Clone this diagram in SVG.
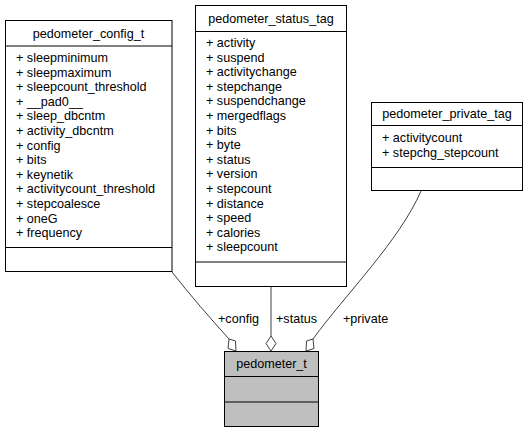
<svg xmlns="http://www.w3.org/2000/svg" width="529" height="433" viewBox="0 0 529 433">
<style>
text{font-family:"Liberation Sans",Arial,sans-serif;font-size:12.6px;fill:#000}
.box{fill:#fff;stroke:#000;stroke-width:1}
.main{fill:#bfbfbf;stroke:#000;stroke-width:1}
.sep{stroke:#000;stroke-width:1}
.c{text-anchor:middle}
.edge{fill:none;stroke:#404040;stroke-width:1}
.dia{fill:#fff;stroke:#404040;stroke-width:1}
</style>
<g id="edges">
<path class="edge" d="M172,272 C190,295 210,318 229,339"/>
<polygon class="dia" points="229,339 235.5,341 236,351 228,348.5"/>
<text x="218" y="323">+config</text>
<path class="edge" d="M271,287 L271,336"/>
<polygon class="dia" points="271,336 276,343.5 271,351 266,343.5"/>
<text x="276" y="323">+status</text>
<path class="edge" d="M421,191 C400,240 345,295 313,339"/>
<polygon class="dia" points="313,339 306.5,341 306,351 314,348.5"/>
<text x="343" y="323">+private</text>
</g>
<g id="pedometer_config_t">
<rect class="box" x="5.5" y="20.5" width="166.5" height="251"/>
<line class="sep" x1="5.5" y1="46" x2="172" y2="46"/>
<line class="sep" x1="5.5" y1="247.5" x2="172" y2="247.5"/>
<text class="c" x="88.5" y="38">pedometer_config_t</text>
<text x="16" y="62">+ sleepminimum</text>
<text x="16" y="76.6">+ sleepmaximum</text>
<text x="16" y="91.2">+ sleepcount_threshold</text>
<text x="16" y="105.8">+ __pad0__</text>
<text x="16" y="120.4">+ sleep_dbcntm</text>
<text x="16" y="135">+ activity_dbcntm</text>
<text x="16" y="149.6">+ config</text>
<text x="16" y="164.2">+ bits</text>
<text x="16" y="178.8">+ keynetik</text>
<text x="16" y="193.4">+ activitycount_threshold</text>
<text x="16" y="208">+ stepcoalesce</text>
<text x="16" y="222.6">+ oneG</text>
<text x="16" y="237.2">+ frequency</text>
</g>
<g id="pedometer_status_tag">
<rect class="box" x="195.5" y="5.5" width="151" height="281"/>
<line class="sep" x1="195.5" y1="31.5" x2="346.5" y2="31.5"/>
<line class="sep" x1="195.5" y1="262" x2="346.5" y2="262"/>
<text class="c" x="271" y="23">pedometer_status_tag</text>
<text x="206" y="47">+ activity</text>
<text x="206" y="61.6">+ suspend</text>
<text x="206" y="76.2">+ activitychange</text>
<text x="206" y="90.8">+ stepchange</text>
<text x="206" y="105.4">+ suspendchange</text>
<text x="206" y="120">+ mergedflags</text>
<text x="206" y="134.6">+ bits</text>
<text x="206" y="149.2">+ byte</text>
<text x="206" y="163.8">+ status</text>
<text x="206" y="178.4">+ version</text>
<text x="206" y="193">+ stepcount</text>
<text x="206" y="207.6">+ distance</text>
<text x="206" y="222.2">+ speed</text>
<text x="206" y="236.8">+ calories</text>
<text x="206" y="251.4">+ sleepcount</text>
</g>
<g id="pedometer_private_tag">
<rect class="box" x="371.5" y="102.5" width="151" height="88"/>
<line class="sep" x1="371.5" y1="125.5" x2="522.5" y2="125.5"/>
<line class="sep" x1="371.5" y1="167.5" x2="522.5" y2="167.5"/>
<text class="c" x="447" y="118">pedometer_private_tag</text>
<text x="382" y="142">+ activitycount</text>
<text x="382" y="156.6">+ stepchg_stepcount</text>
</g>
<g id="pedometer_t">
<rect class="main" x="224.5" y="351.5" width="94" height="75"/>
<line class="sep" x1="224.5" y1="376.5" x2="318.5" y2="376.5"/>
<line class="sep" x1="224.5" y1="402" x2="318.5" y2="402"/>
<text class="c" x="271.5" y="368">pedometer_t</text>
</g>
</svg>
